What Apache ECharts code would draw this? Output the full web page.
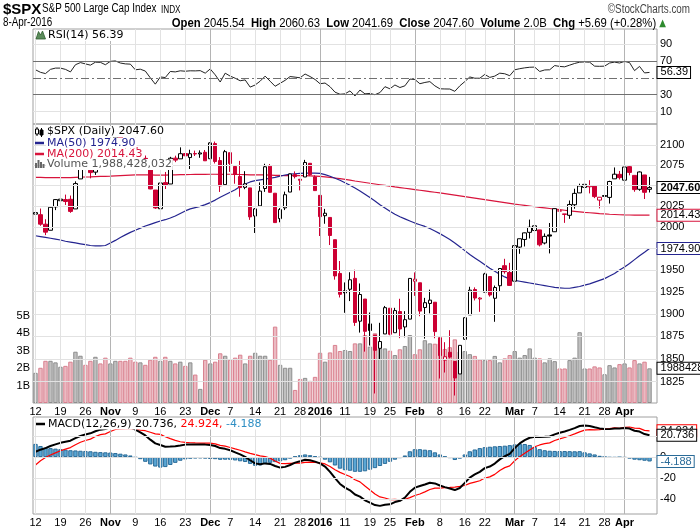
<!DOCTYPE html>
<html>
<head>
<meta charset="utf-8">
<script src="https://cdn.jsdelivr.net/npm/echarts@6/dist/echarts.min.js"></script>
<style>
html, body { margin: 0; padding: 0; background: #fff; }
#chart { width: 700px; height: 530px; }
</style>
</head>
<body>
<div id="chart"></div>
<script>
// trading days, 12-Oct-2015 .. 8-Apr-2016
function days(prefix, list) {
	return list.split(' ').map(function (d) { return prefix + d; });
}
var dates = [].concat(
	days('2015-10-', '12 13 14 15 16 19 20 21 22 23 26 27 28 29 30'),
	days('2015-11-', '02 03 04 05 06 09 10 11 12 13 16 17 18 19 20 23 24 25 27 30'),
	days('2015-12-', '01 02 03 04 07 08 09 10 11 14 15 16 17 18 21 22 23 24 28 29 30 31'),
	days('2016-01-', '04 05 06 07 08 11 12 13 14 15 19 20 21 22 25 26 27 28 29'),
	days('2016-02-', '01 02 03 04 05 08 09 10 11 12 16 17 18 19 22 23 24 25 26 29'),
	days('2016-03-', '01 02 03 04 07 08 09 10 11 14 15 16 17 18 21 22 23 24 28 29 30 31'),
	days('2016-04-', '01 04 05 06 07 08')
);

var weekTicks = [
	['2015-10-12', '12'], ['2015-10-19', '19'], ['2015-10-26', '26'],
	['2015-11-09', '9'], ['2015-11-16', '16'], ['2015-11-23', '23'],
	['2015-12-07', '7'], ['2015-12-14', '14'], ['2015-12-21', '21'], ['2015-12-28', '28'],
	['2016-01-11', '11'], ['2016-01-19', '19'], ['2016-01-25', '25'],
	['2016-02-08', '8'], ['2016-02-16', '16'], ['2016-02-22', '22'],
	['2016-03-07', '7'], ['2016-03-14', '14'], ['2016-03-21', '21'], ['2016-03-28', '28']
];
var monthTicks = [
	['2015-11-02', 'Nov'], ['2015-12-01', 'Dec'], ['2016-01-04', '2016'],
	['2016-02-01', 'Feb'], ['2016-03-01', 'Mar'], ['2016-04-01', 'Apr']
];

// levels with gridlines; the ones in *Hidden sit behind the value tags, no label
var priceTicks = [1825, 1850, 1875, 1900, 1925, 1950, 1975, 2000, 2025, 2050, 2075, 2100];
var priceHidden = [1975, 2050];
var rsiTicks = [90, 70, 50, 30, 10];
var rsiHidden = [50];
var macdTicks = [20, 0, -20, -40];
var macdHidden = [20];

var prevClose = 2014.89;
var opens = [
	2015.65, 2015.00, 2003.66, 1996.47, 2024.37, 2031.73, 2033.13, 2033.47, 2021.88, 2058.19, 2075.08, 2068.75, 2066.48, 2088.35, 2090.00,
	2080.76, 2102.63, 2110.60, 2101.92, 2098.60, 2096.56, 2077.19, 2083.41, 2072.29, 2044.64, 2022.08, 2053.67, 2051.99, 2083.70, 2082.82, 2089.41, 2084.42, 2089.30, 2088.82, 2090.95,
	2082.93, 2101.71, 2080.71, 2051.24, 2090.42, 2073.39, 2061.17, 2047.93, 2047.27, 2013.37, 2025.55, 2046.50, 2073.76, 2040.81, 2010.27, 2023.15, 2042.20, 2063.52, 2057.77, 2060.54, 2077.34, 2060.59,
	2038.20, 2013.78, 2011.71, 1985.32, 1945.97, 1926.12, 1927.83, 1940.34, 1891.68, 1916.68, 1888.66, 1876.18, 1861.46, 1877.40, 1906.28, 1878.79, 1902.52, 1885.22, 1894.00,
	1936.94, 1935.26, 1907.07, 1911.67, 1913.07, 1873.25, 1848.46, 1857.10, 1847.00, 1833.40, 1871.44, 1898.80, 1927.57, 1916.74, 1924.44, 1942.38, 1917.56, 1931.87, 1954.95, 1947.13,
	1937.09, 1976.60, 1985.60, 1994.01, 1996.11, 1996.88, 1981.44, 1990.97, 1994.71, 2019.27, 2015.27, 2014.24, 2026.90, 2041.16, 2047.88, 2048.64, 2049.40, 2032.48, 2037.89, 2035.75, 2058.27, 2063.77,
	2056.62, 2073.19, 2062.50, 2045.56, 2063.01, 2045.54
];
var highs = [
	2018.66, 2022.34, 2009.56, 2024.15, 2033.54, 2034.45, 2039.12, 2037.97, 2055.20, 2079.74, 2075.14, 2070.37, 2090.35, 2092.52, 2094.32,
	2106.20, 2116.48, 2114.59, 2108.78, 2101.91, 2096.56, 2083.67, 2086.94, 2072.29, 2044.64, 2053.22, 2066.69, 2085.31, 2086.74, 2097.06, 2095.61, 2094.12, 2093.00, 2093.29, 2093.81,
	2103.37, 2104.27, 2085.00, 2093.84, 2090.42, 2073.85, 2080.33, 2067.65, 2047.27, 2022.92, 2053.87, 2076.72, 2076.37, 2040.81, 2022.90, 2042.74, 2064.73, 2067.36, 2057.77, 2081.56, 2077.34, 2062.54,
	2038.20, 2021.94, 2011.71, 1985.32, 1960.40, 1935.65, 1947.38, 1950.33, 1934.47, 1916.68, 1901.44, 1876.18, 1889.85, 1908.85, 1906.28, 1906.73, 1916.99, 1902.96, 1940.24,
	1947.20, 1935.26, 1918.01, 1927.35, 1913.07, 1873.25, 1868.25, 1881.60, 1847.00, 1864.78, 1895.77, 1930.68, 1930.00, 1918.78, 1946.70, 1942.38, 1932.08, 1951.83, 1962.96, 1958.27,
	1978.35, 1986.51, 1993.69, 2009.13, 2006.12, 1996.88, 1992.69, 2005.08, 2022.37, 2024.57, 2015.94, 2032.02, 2046.24, 2052.36, 2053.91, 2056.60, 2049.40, 2036.04, 2042.67, 2055.91, 2072.21, 2067.92,
	2075.07, 2074.02, 2062.50, 2067.33, 2063.01, 2060.63
];
var lows = [
	2010.55, 2001.78, 1990.73, 1996.47, 2020.46, 2022.31, 2026.61, 2017.22, 2021.88, 2058.19, 2066.53, 2058.84, 2063.11, 2082.63, 2079.34,
	2080.76, 2097.51, 2096.98, 2090.41, 2083.74, 2068.24, 2069.91, 2074.85, 2045.66, 2022.02, 2019.39, 2045.90, 2051.99, 2078.76, 2082.82, 2081.39, 2070.29, 2086.30, 2084.13, 2080.41,
	2082.93, 2077.11, 2042.35, 2051.24, 2066.78, 2052.32, 2036.53, 2045.67, 2008.80, 1993.26, 2025.55, 2042.43, 2041.66, 2005.33, 2005.93, 2020.49, 2042.20, 2058.73, 2044.20, 2060.54, 2061.97, 2043.62,
	1989.68, 2004.17, 1979.05, 1938.83, 1918.46, 1901.10, 1914.35, 1886.41, 1878.93, 1857.83, 1864.60, 1812.29, 1848.98, 1877.40, 1875.97, 1878.79, 1872.70, 1873.65, 1894.00,
	1920.30, 1897.29, 1872.23, 1900.52, 1872.65, 1828.46, 1834.94, 1850.32, 1810.10, 1833.40, 1871.44, 1898.80, 1915.09, 1902.17, 1924.44, 1919.44, 1891.00, 1925.41, 1945.78, 1931.81,
	1937.09, 1968.80, 1977.37, 1986.77, 1989.38, 1977.43, 1979.84, 1969.25, 1994.71, 2012.05, 2005.23, 2010.04, 2022.16, 2041.16, 2043.14, 2040.57, 2034.88, 2022.49, 2031.96, 2028.31, 2058.27, 2057.46,
	2043.98, 2062.57, 2042.56, 2043.78, 2033.80, 2041.69
];
var closes = [
	2017.46, 2003.69, 1994.24, 2023.86, 2033.11, 2033.66, 2030.77, 2018.94, 2052.51, 2075.15, 2071.18, 2065.89, 2090.35, 2089.41, 2079.36,
	2104.05, 2109.79, 2102.31, 2099.93, 2099.20, 2078.58, 2081.72, 2075.00, 2045.97, 2023.04, 2053.19, 2050.44, 2083.58, 2081.24, 2089.17, 2086.59, 2089.14, 2088.87, 2090.11, 2080.41,
	2102.63, 2079.51, 2049.62, 2091.69, 2077.07, 2063.59, 2047.62, 2052.23, 2012.37, 2021.94, 2043.41, 2073.07, 2041.89, 2005.55, 2021.15, 2038.97, 2064.29, 2060.99, 2056.50, 2078.36, 2063.36, 2043.94,
	2012.66, 2016.71, 1990.26, 1943.09, 1922.03, 1923.67, 1938.68, 1890.28, 1921.84, 1880.33, 1881.33, 1859.33, 1868.99, 1906.90, 1877.08, 1903.63, 1882.95, 1893.36, 1940.24,
	1939.38, 1903.03, 1912.53, 1915.45, 1880.05, 1853.44, 1852.21, 1851.86, 1829.08, 1864.78, 1895.58, 1926.82, 1917.83, 1917.78, 1945.50, 1921.27, 1929.80, 1951.70, 1948.05, 1932.23,
	1978.35, 1986.45, 1993.40, 1999.99, 2001.76, 1979.26, 1989.26, 1989.57, 2022.19, 2019.64, 2015.93, 2027.22, 2040.59, 2049.58, 2051.60, 2049.80, 2036.71, 2035.94, 2037.05, 2055.01, 2063.95, 2059.74,
	2072.78, 2066.13, 2045.17, 2066.66, 2041.91, 2047.60
];
// billions of shares
var volume = [
	1.73, 2.02, 2.42, 2.42, 2.33, 2.08, 2.13, 2.37, 2.94, 2.71, 2.19, 2.42, 2.65, 2.27, 2.60,
	2.27, 2.42, 2.42, 2.42, 2.60, 2.37, 2.33, 2.19, 2.48, 2.65, 2.42, 2.65, 2.42, 2.27, 2.37, 2.13, 2.33, 1.63, 0.81, 2.48,
	2.27, 2.37, 2.85, 2.71, 2.48, 2.60, 2.77, 2.27, 2.71, 2.88, 2.71, 2.71, 2.48, 4.38, 2.19, 2.02, 2.02, 0.75, 1.38, 1.44, 1.27, 1.50,
	2.88, 2.37, 2.90, 3.33, 2.98, 3.04, 2.98, 3.42, 3.42, 3.90, 3.23, 4.00, 3.13, 3.13, 3.00, 2.75, 3.08, 3.27, 3.90,
	2.80, 3.08, 3.60, 3.42, 3.40, 3.42, 3.10, 3.20, 3.65, 2.95, 2.98, 2.80, 2.70, 2.50, 2.46, 2.46, 2.70, 2.33, 2.56, 2.75,
	2.98, 2.60, 2.75, 3.13, 2.60, 2.56, 2.33, 2.56, 2.40, 1.98, 1.98, 2.46, 2.60, 4.06, 1.98, 1.98, 2.10, 2.04, 1.65, 2.17, 2.04, 2.23,
	2.27, 2.04, 2.46, 2.27, 2.37, 1.988
];
var lastVolume = '1,988,428,032';
var ma50 = [
	1990, 1989, 1988, 1987, 1986, 1985, 1983.5, 1982.5, 1981.5, 1980.5, 1979.5, 1978.5, 1978, 1978, 1978.5,
	1981.5, 1984.5, 1988, 1991, 1994, 1996.5, 1999, 2001.5, 2003.5, 2005.5, 2007.5, 2009, 2011, 2013.5, 2016.5, 2019.5, 2022, 2023.5, 2025, 2027,
	2029.5, 2032.5, 2036, 2039, 2042, 2045, 2049, 2052, 2054.5, 2056, 2057, 2058, 2059, 2060, 2061.5, 2063, 2064, 2064.5, 2065, 2065.2, 2065.4, 2065.3,
	2065, 2063.5, 2061.5, 2059, 2056.5, 2053.5, 2050.5, 2047, 2043.5, 2039.5, 2035.5, 2031.5, 2027, 2023, 2019, 2015.5, 2012.5, 2010, 2007.5,
	2005, 2003, 2001, 1998.5, 1995.5, 1992.5, 1989, 1985.5, 1981.5, 1977, 1972.5, 1968, 1964, 1960, 1956, 1952, 1948.5, 1945, 1942, 1939.5,
	1938, 1937, 1936, 1935, 1934, 1933, 1932, 1931, 1930, 1929.5, 1929, 1929, 1930, 1931, 1932.5, 1934, 1936, 1938, 1940, 1943, 1946, 1950,
	1953.5, 1957.5, 1962, 1966.5, 1970.5, 1974.90
];
var ma200 = [
	2060, 2060, 2059.8, 2059.7, 2059.7, 2059.8, 2059.8, 2059.7, 2060, 2060.3, 2060.5, 2060.6, 2060.9, 2061.2, 2061.3,
	2061.6, 2062, 2062.3, 2062.6, 2062.9, 2063, 2063.1, 2063.2, 2063.1, 2062.9, 2062.9, 2062.9, 2063.1, 2063.2, 2063.4, 2063.5, 2063.6, 2063.7, 2063.8, 2063.8,
	2063.9, 2063.9, 2063.8, 2063.9, 2063.9, 2063.8, 2063.6, 2063.5, 2063.2, 2063, 2063, 2063.1, 2062.9, 2062.6, 2062.4, 2062.3, 2062.3, 2062.2, 2062.1, 2062.1, 2061.9, 2061.7,
	2061.2, 2060.6, 2060, 2059.3, 2058.5, 2057.6, 2056.6, 2055.6, 2054.7, 2053.8, 2052.9, 2052, 2051.1, 2050.2, 2049.3, 2048.4, 2047.6, 2046.8, 2046,
	2045.2, 2044.4, 2043.6, 2042.8, 2042, 2041.2, 2040.3, 2039.4, 2038.5, 2037.6, 2036.7, 2035.8, 2034.9, 2034, 2033.1, 2032.2, 2031.3, 2030.4, 2029.5, 2028.6,
	2027.7, 2026.9, 2026.1, 2025.3, 2024.5, 2023.8, 2023.1, 2022.4, 2021.7, 2021, 2020.3, 2019.6, 2019, 2018.4, 2017.8, 2017.3, 2016.8, 2016.3, 2015.9, 2015.5, 2015.2, 2014.9,
	2014.7, 2014.6, 2014.5, 2014.5, 2014.45, 2014.43
];
var rsi = [
	59.5, 56.5, 55, 60, 61.5, 61.5, 60, 57, 65.5, 68, 66.5, 65, 68.5, 68.3, 65.5,
	69.5, 70, 67.5, 66.5, 66.2, 59.5, 60.2, 58, 50, 42.5, 51, 50.3, 57.5, 57, 58.3, 57.8, 58.3, 58.2, 58.5, 55.5,
	60.5, 53.5, 45, 55.5, 52, 49.5, 46.5, 47.5, 39, 41.5, 46, 52, 46, 40, 43.5, 47, 51.5, 50.8, 50, 54.5, 51.5, 48,
	43, 43.8, 39.5, 33, 30.5, 31, 34.5, 28.5, 35.5, 31, 31.5, 30, 32.5, 39.5, 37, 41.5, 38.5, 40.5, 48.5,
	48, 43, 44.5, 45.5, 40.5, 37, 36.8, 36.7, 34, 40.5, 45.5, 51, 49.5, 49.5, 54, 50.5, 52, 55.5, 54.8, 52.5,
	59.5, 60.8, 61.8, 62.5, 62.7, 57.5, 59.3, 59.5, 64.5, 63.5, 63, 65, 67, 68.5, 68.8, 68.5, 63.8, 63.6, 63.8, 67.5, 68.6, 67.5,
	69.4, 68, 58.5, 63.5, 55.8, 56.39
];
var macd = [
	5, 7, 8.5, 10.5, 12, 13.5, 14.5, 15.5, 18, 20, 21.5, 22.5, 24.5, 26, 26.5,
	28.5, 30, 30, 29.5, 28.5, 26, 23.5, 20.5, 16.5, 13, 11.5, 9.8, 10, 10.3, 11, 11.8, 12, 12, 12, 11.8,
	11.5, 10.5, 8.5, 7.8, 6.5, 4.5, 2.5, 0.2, -3, -6, -6.9, -6, -6.5, -8.5, -10, -9.3, -7.5, -5.3, -4, -2.5, -3, -4.3,
	-6, -9, -14, -20, -25.5, -29, -31.5, -35.5, -37.5, -41, -43.2, -45.5, -46.3, -45.3, -44.8, -42.7, -41.5, -38.5, -33,
	-29, -27.5, -26, -24.3, -25, -27, -28.5, -29.8, -31.3, -29.3, -24.5, -19.5, -16.5, -14, -10.5, -9, -6.2, -2.2, 0.8, 3,
	8.5, 13, 16, 18.3, 19.3, 19, 19.2, 19.5, 21.5, 23, 24.3, 25.8, 27.5, 29.5, 30, 29.5, 28.3, 27.2, 26.6, 26.5, 27, 27,
	27.6, 27, 25, 24.2, 21.8, 20.736
];
var signal = [
	-7.5, -3.5, -0.5, 2, 4, 6, 7.5, 9, 11.7, 14, 15.7, 17, 19.5, 21.3, 22,
	24.2, 26.2, 26.8, 27, 27, 26.5, 25.5, 25, 23.5, 22, 21.5, 19.3, 17.5, 15.8, 14.5, 14, 13.6, 13.4, 13.3, 13.3,
	13.3, 12.5, 11.1, 10.3, 9.1, 7.7, 6.5, 4.9, 3.5, 2.3, 1.1, 0.5, -1, -3.7, -6, -6.3, -6, -5.8, -5.8, -5, -4.8, -5.1,
	-5.5, -6.5, -9, -12, -14.5, -16.5, -18.5, -21.5, -23.5, -27.5, -31.2, -35, -37.8, -38.8, -40.3, -40.2, -40.5, -40, -38.5,
	-36.5, -35, -33, -30.8, -29.5, -29.5, -29, -28.8, -28.5, -27.8, -27, -25, -23.7, -22.5, -19.9, -18.8, -16.4, -12.7, -10, -8.3,
	-3.5, 0.4, 3.6, 6.8, 9.8, 11.5, 12.7, 13.5, 15.7, 17.3, 18.6, 20.2, 22, 23.9, 25.5, 26, 25.8, 26, 26.6, 27, 27.6, 27.3,
	28.2, 28.5, 27.5, 27.2, 25.3, 24.924
];
var hist = [
	12.5, 10.5, 9, 8.5, 8, 7.5, 7, 6.5, 6.3, 6, 5.8, 5.5, 5, 4.7, 4.5,
	4.3, 3.8, 3.2, 2.5, 1.5, -0.5, -2, -4.5, -7, -9, -10, -9.5, -7.5, -5.5, -3.5, -2.2, -1.6, -1.4, -1.3, -1.5,
	-1.8, -2, -2.6, -2.5, -2.6, -3.2, -4, -4.7, -6.5, -8.3, -8, -6.5, -5.5, -4.8, -4, -3, -1.5, 0.5, 1.8, 2.5, 1.8, 0.8,
	-0.5, -2.5, -5, -8, -11, -12.5, -13, -14, -14, -13.5, -12, -10.5, -8.5, -6.5, -4.5, -2.5, -1, 1.5, 5.5,
	7.5, 7.5, 7, 6.5, 4.5, 2.5, 0.5, -1, -2.8, -1.5, 2.5, 5.5, 7.2, 8.5, 9.4, 9.8, 10.2, 10.5, 10.8, 11.3,
	12, 12.6, 12.4, 11.5, 9.5, 7.5, 6.5, 6, 5.8, 5.7, 5.7, 5.6, 5.5, 5.6, 4.5, 3.5, 2.5, 1.2, 0, -0.5, -0.6, -0.3,
	-0.6, -1.5, -2.5, -3, -3.5, -4.188
];

var SANS = '"Liberation Sans", Arial, sans-serif';
var DEJAVU = '"DejaVu Sans", sans-serif';
var NARROW = 0.82; // horizontal squeeze to mimic Arial Narrow
var RED = '#cc0033';
var MA200_COLOR = '#d8143c';
var MA50_COLOR = '#24248f';
var last = closes.length - 1;

// one empty slot on the right, like the original has
var cats = dates.concat(['']);

var tickMap = {};
weekTicks.forEach(function (t) { tickMap[t[0]] = { text: t[1], bold: false }; });
monthTicks.forEach(function (t) { tickMap[t[0]] = { text: t[1], bold: true }; });

var vLines = weekTicks.map(function (t) {
	return { xAxis: t[0], lineStyle: { color: '#e2e2e2' } };
}).concat(monthTicks.map(function (t) {
	return { xAxis: t[0], lineStyle: { color: '#b4b4b4' } };
}));

function hLine(v, hidden, color, type) {
	return { yAxis: v, lineStyle: { color: color || '#e2e2e2', type: type || 'solid' },
		label: { show: hidden.indexOf(v) < 0, position: 'end', distance: 3, color: '#000',
			fontSize: 11, fontFamily: SANS, formatter: String(v) } };
}

function gridLines(xi, yi, data, hl) {
	return {
		type: 'line', xAxisIndex: xi, yAxisIndex: yi, data: data, symbol: 'none', silent: true, z: 0,
		lineStyle: { width: 0, color: 'rgba(0,0,0,0)' },
		markLine: {
			silent: true, symbol: ['none', 'none'], animation: false, precision: 3,
			label: { show: false }, lineStyle: { width: 1, type: 'solid' },
			data: vLines.concat(hl)
		}
	};
}

function tag(text, border, textColor, bold) {
	return {
		show: true, formatter: text, distance: 8, color: textColor || '#000',
		fontSize: 11, fontFamily: SANS, fontWeight: bold ? 'bold' : 'normal',
		backgroundColor: '#fff', borderColor: border, borderWidth: 1, padding: [0, 2, 0, 3], lineHeight: 11
	};
}

var candles = closes.map(function (c, i) {
	var prev = i ? closes[i - 1] : prevClose;
	var col = c < prev ? RED : '#000';
	var fill = c < opens[i] ? col : '#fff';
	return {
		value: [opens[i], c, lows[i], highs[i]],
		itemStyle: { color: fill, color0: fill, borderColor: col, borderColor0: col, borderWidth: 1 }
	};
});

var volBars = volume.map(function (v, i) {
	var prev = i ? closes[i - 1] : prevClose;
	var down = closes[i] < prev;
	return {
		value: v,
		itemStyle: down ? { color: '#ebbac2', borderColor: '#d9808f', borderWidth: 1 }
			: { color: '#c0c0c0', borderColor: '#8e8e8e', borderWidth: 1 }
	};
});

function axisX(grid, labels) {
	return {
		type: 'category', gridIndex: grid, data: cats, boundaryGap: true,
		axisLine: { show: false }, axisTick: { show: false }, splitLine: { show: false },
		axisLabel: {
			show: labels, margin: 3, color: '#000', fontSize: 11, fontFamily: SANS,
			interval: function (i, v) { return !!tickMap[v]; },
			formatter: function (v) {
				var t = tickMap[v];
				if (!t) return '';
				return t.bold ? '{b|' + t.text + '}' : t.text;
			},
			rich: { b: { fontWeight: 'bold', fontSize: 11, fontFamily: SANS, color: '#000' } }
		}
	};
}

function legendText(x, y, text, color) {
	return { type: 'text', x: x, y: y, z: 100, style: { text: text, fill: color,
		font: '11px ' + DEJAVU, verticalAlign: 'middle', backgroundColor: '#fff', padding: [0, 1] } };
}

var chart = echarts.init(document.getElementById('chart'));
chart.setOption({
	animation: false,
	backgroundColor: '#fff',
	grid: [
		{ left: 33, right: 43, top: 29, height: 95, show: true, borderColor: '#a0a0a0', borderWidth: 1 },
		{ left: 33, right: 43, top: 124, height: 279, show: true, borderColor: '#a0a0a0', borderWidth: 1 },
		{ left: 33, right: 43, top: 417, height: 97, show: true, borderColor: '#a0a0a0', borderWidth: 1 }
	],
	xAxis: [axisX(0, false), axisX(1, true), axisX(2, true)],
	yAxis: [
		{ gridIndex: 0, type: 'value', min: -4.7, max: 107.8, show: false },
		{ gridIndex: 1, type: 'log', logBase: 10, min: 1802.1, max: 2126.3, show: false },
		{ gridIndex: 1, type: 'value', min: 0, max: 16, interval: 1, position: 'left',
			axisLine: { show: false }, axisTick: { show: false }, splitLine: { show: false },
			axisLabel: { margin: 3, color: '#000', fontSize: 11, fontFamily: SANS,
				formatter: function (v) { return v >= 1 && v <= 5 ? v + 'B' : ''; } } },
		{ gridIndex: 2, type: 'value', min: -54, max: 38, show: false }
	],
	series: [
		// RSI panel
		gridLines(0, 0, rsi, rsiTicks.map(function (v) {
			var strong = v === 70 || v === 30;
			return hLine(v, rsiHidden, v === 50 || strong ? '#707070' : null, v === 50 ? [8, 3, 2, 3] : null);
		})),
		{ type: 'line', xAxisIndex: 0, yAxisIndex: 0, data: rsi, symbol: 'none', z: 3,
			lineStyle: { color: '#222', width: 1 }, endLabel: tag(rsi[last].toFixed(2), '#000') },

		// price panel
		gridLines(1, 1, closes, priceTicks.map(function (v) { return hLine(v, priceHidden); })),
		{ type: 'bar', xAxisIndex: 1, yAxisIndex: 2, data: volBars, barCategoryGap: '12%', z: 1 },
		{ type: 'line', xAxisIndex: 1, yAxisIndex: 1, data: ma200, symbol: 'none', z: 3,
			lineStyle: { color: MA200_COLOR, width: 1.2 }, endLabel: tag(ma200[last].toFixed(2), MA200_COLOR) },
		{ type: 'line', xAxisIndex: 1, yAxisIndex: 1, data: ma50, symbol: 'none', z: 3,
			lineStyle: { color: MA50_COLOR, width: 1.2 }, endLabel: tag(ma50[last].toFixed(2), MA50_COLOR) },
		{ type: 'candlestick', xAxisIndex: 1, yAxisIndex: 1, data: candles, barWidth: 4, z: 4 },
		{ type: 'line', xAxisIndex: 1, yAxisIndex: 1, data: closes, symbol: 'none', z: 6, silent: true,
			lineStyle: { width: 0, color: 'rgba(0,0,0,0)' }, endLabel: tag(closes[last].toFixed(2), '#000', '#000', true) },
		{ type: 'line', xAxisIndex: 1, yAxisIndex: 2, data: volume, symbol: 'none', z: 5, silent: true,
			lineStyle: { width: 0, color: 'rgba(0,0,0,0)' }, endLabel: tag(lastVolume.replace(/,/g, ''), '#000') },

		// MACD panel
		gridLines(2, 3, macd, macdTicks.map(function (v) { return hLine(v, macdHidden); })),
		{ type: 'bar', xAxisIndex: 2, yAxisIndex: 3, data: hist, barCategoryGap: '12%', z: 1,
			itemStyle: { color: '#5aa6d4', borderColor: '#2a6b98', borderWidth: 1 } },
		{ type: 'line', xAxisIndex: 2, yAxisIndex: 3, data: hist, symbol: 'none', z: 5, silent: true,
			lineStyle: { width: 0, color: 'rgba(0,0,0,0)' }, endLabel: tag(hist[last].toFixed(3), '#2a6b98', '#2a6b98') },
		{ type: 'line', xAxisIndex: 2, yAxisIndex: 3, data: signal, symbol: 'none', z: 3,
			lineStyle: { color: '#ff0000', width: 1.2 }, endLabel: tag(signal[last].toFixed(3), '#ff0000') },
		{ type: 'line', xAxisIndex: 2, yAxisIndex: 3, data: macd, symbol: 'none', z: 4,
			lineStyle: { color: '#000', width: 2 }, endLabel: tag(macd[last].toFixed(3), '#000') }
	],
	graphic: [
		// header
		{ type: 'text', x: 3, y: 2, z: 100, style: { text: '$SPX', fill: '#000', font: 'bold 15px ' + SANS } },
		{ type: 'text', x: 42, y: 3, z: 100, scaleX: NARROW, style: { text: 'S&P 500 Large Cap Index', fill: '#000', font: '12px ' + SANS } },
		{ type: 'text', x: 161, y: 5, z: 100, scaleX: NARROW, style: { text: 'INDX', fill: '#000', font: '10px ' + SANS } },
		{ type: 'text', x: 690, y: 4, z: 100, scaleX: NARROW, style: { text: '\u00a9StockCharts.com', fill: '#444', font: '12px ' + SANS, align: 'right' } },
		{ type: 'text', x: 3, y: 17, z: 100, scaleX: NARROW, style: { text: '8-Apr-2016', fill: '#000', font: '12px ' + SANS } },
		{ type: 'text', x: 666, y: 17, z: 100, scaleX: 0.87, style: {
			text: '{b|Open} 2045.54  {b|High} 2060.63  {b|Low} 2041.69  {b|Close} 2047.60  {b|Volume} 2.0B  {b|Chg} +5.69 (+0.28%) {g|\u25b2}',
			fill: '#000', font: '13px ' + SANS, align: 'right',
			rich: { b: { font: 'bold 13px ' + SANS, fill: '#000' }, g: { font: '10px ' + DEJAVU, fill: '#2e8b2e' } }
		} },

		// RSI legend
		{ type: 'polygon', z: 100, shape: { points: [[36, 39], [38.5, 31.5], [40.5, 35], [42.5, 31], [45.5, 39]] },
			style: { fill: '#5b8c5b', stroke: '#2d5c2d', lineWidth: 0.8 } },
		legendText(47, 35.5, 'RSI(14) ' + rsi[last].toFixed(2), '#000'),

		// price legend
		{ type: 'line', z: 100, shape: { x1: 37, y1: 127, x2: 37, y2: 136 }, style: { stroke: '#000', lineWidth: 1 } },
		{ type: 'rect', z: 100, shape: { x: 35.5, y: 129, width: 3, height: 5 }, style: { fill: '#fff', stroke: '#000', lineWidth: 1 } },
		{ type: 'line', z: 100, shape: { x1: 41.5, y1: 128, x2: 41.5, y2: 137 }, style: { stroke: '#000', lineWidth: 1 } },
		{ type: 'rect', z: 100, shape: { x: 40, y: 130, width: 3, height: 5 }, style: { fill: '#000', stroke: '#000', lineWidth: 1 } },
		legendText(46, 131.5, '$SPX (Daily) ' + closes[last].toFixed(2), '#000'),
		{ type: 'line', z: 100, shape: { x1: 35, y1: 143, x2: 44, y2: 143 }, style: { stroke: MA50_COLOR, lineWidth: 2.5 } },
		legendText(46, 143, 'MA(50) ' + ma50[last].toFixed(2), MA50_COLOR),
		{ type: 'line', z: 100, shape: { x1: 35, y1: 154, x2: 44, y2: 154 }, style: { stroke: MA200_COLOR, lineWidth: 2.5 } },
		legendText(46, 154, 'MA(200) ' + ma200[last].toFixed(2), MA200_COLOR),
		{ type: 'rect', z: 100, shape: { x: 35, y: 163, width: 2, height: 5 }, style: { fill: '#666' } },
		{ type: 'rect', z: 100, shape: { x: 37.5, y: 160, width: 2, height: 8 }, style: { fill: '#666' } },
		{ type: 'rect', z: 100, shape: { x: 40, y: 162, width: 2, height: 6 }, style: { fill: '#666' } },
		{ type: 'rect', z: 100, shape: { x: 42.5, y: 164, width: 2, height: 4 }, style: { fill: '#666' } },
		legendText(46, 164.5, 'Volume ' + lastVolume, '#555'),

		// MACD legend
		{ type: 'line', z: 100, shape: { x1: 36, y1: 424, x2: 45, y2: 424 }, style: { stroke: '#000', lineWidth: 2.5 } },
		{ type: 'text', x: 47, y: 424, z: 100, style: {
			text: 'MACD(12,26,9) ' + macd[last].toFixed(3) + ', {r|' + signal[last].toFixed(3) + ',} {h|' + hist[last].toFixed(3) + '}',
			fill: '#000', font: '11px ' + DEJAVU, verticalAlign: 'middle', backgroundColor: '#fff', padding: [0, 1],
			rich: { r: { fill: '#ff0000', font: '11px ' + DEJAVU }, h: { fill: '#2f8fc4', font: '11px ' + DEJAVU } }
		} }
	]
});
</script>
</body>
</html>
